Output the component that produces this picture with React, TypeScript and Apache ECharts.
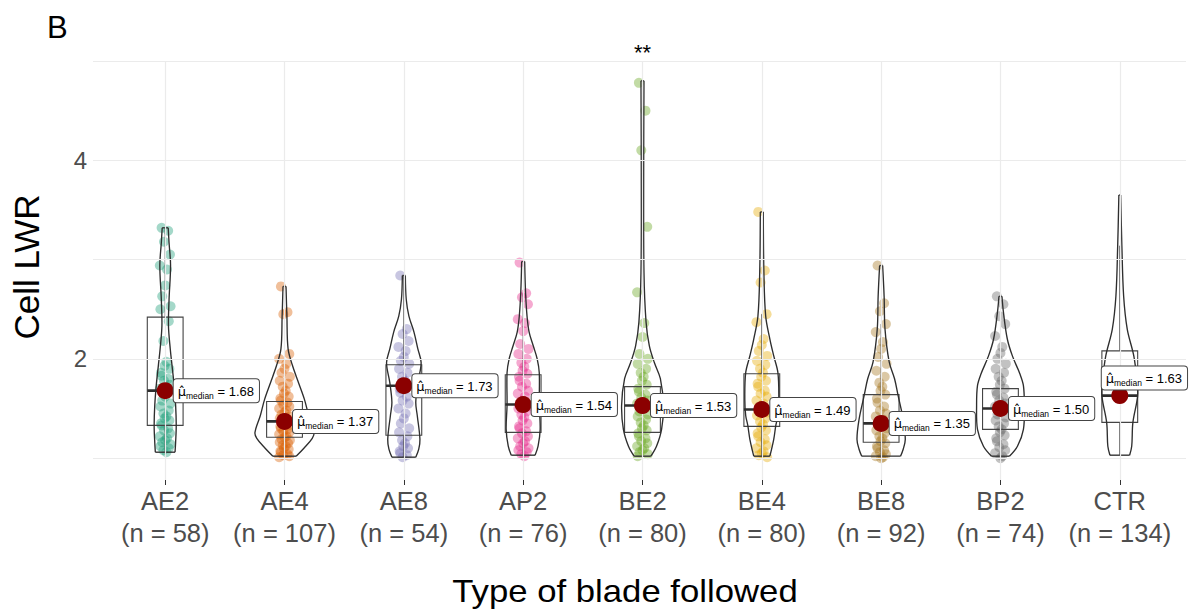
import { useEffect, useRef } from 'react';
import * as echarts from 'echarts';

// ---------- data ----------
const CATEGORIES = ['AE2', 'AE4', 'AE8', 'AP2', 'BE2', 'BE4', 'BE8', 'BP2', 'CTR'];
const N_OBS = [58, 107, 54, 76, 80, 80, 92, 74, 134];
const MEDIANS = [1.68, 1.37, 1.73, 1.54, 1.53, 1.49, 1.35, 1.5, 1.63];
const Q1 = [1.33, 1.21, 1.23, 1.26, 1.26, 1.32, 1.16, 1.29, 1.36];
const Q3 = [2.42, 1.57, 1.94, 1.84, 1.72, 1.85, 1.64, 1.7, 2.08];
const WHISKER_LOW = [1.06, 1.01, 1.01, 1.02, 1.01, 1.01, 1.0, 1.02, 1.03];
const WHISKER_HIGH = [3.32, 2.05, 2.84, 2.66, 2.36, 2.45, 2.35, 2.23, 3.14];
const Y_TICKS = [2, 4];
const Y_GRID = [1, 2, 3, 4, 5];
const SIGNIF_CATEGORY = 'BE2';
const SIGNIF_LABEL = '**';
const X_TITLE = 'Type of blade followed';
const Y_TITLE = 'Cell LWR';
const PANEL_TAG = 'B';

// violin profiles: [value, relative density (1 = widest violin)]
const VIOLIN_AE2 = [[1.06, 0.33], [1.16, 0.35], [1.33, 0.37], [1.53, 0.35], [1.73, 0.3], [1.93, 0.23], [2.1, 0.17], [2.33, 0.11], [2.6, 0.13], [2.94, 0.18], [3.17, 0.13], [3.32, 0.1]];
const VIOLIN_AE4 = [[1.02, 0.39], [1.1, 0.65], [1.2, 0.93], [1.26, 0.99], [1.43, 0.81], [1.59, 0.67], [1.76, 0.47], [1.93, 0.27], [2.1, 0.12], [2.43, 0.08], [2.73, 0.05]];
const VIOLIN_AE8 = [[1.01, 0.4], [1.09, 0.5], [1.19, 0.54], [1.43, 0.45], [1.56, 0.4], [1.76, 0.47], [1.96, 0.58], [2.1, 0.47], [2.27, 0.34], [2.43, 0.17], [2.6, 0.08], [2.84, 0.05]];
const VIOLIN_AP2 = [[1.03, 0.4], [1.12, 0.5], [1.29, 0.57], [1.53, 0.54], [1.86, 0.54], [2.0, 0.47], [2.13, 0.34], [2.27, 0.2], [2.43, 0.13], [2.67, 0.08], [2.98, 0.05]];
const VIOLIN_BE2 = [[1.02, 0.28], [1.12, 0.47], [1.29, 0.64], [1.53, 0.7], [1.8, 0.6], [1.96, 0.4], [2.13, 0.23], [2.37, 0.12], [2.87, 0.05], [3.88, 0.04], [4.8, 0.05]];
const VIOLIN_BE4 = [[1.02, 0.27], [1.19, 0.4], [1.33, 0.47], [1.43, 0.54], [1.59, 0.57], [1.86, 0.54], [2.03, 0.4], [2.2, 0.27], [2.43, 0.13], [2.87, 0.07], [3.48, 0.05]];
const VIOLIN_BE8 = [[1.02, 0.65], [1.09, 0.74], [1.19, 0.81], [1.39, 0.74], [1.63, 0.57], [1.8, 0.45], [1.97, 0.27], [2.3, 0.13], [2.63, 0.1], [2.94, 0.05]];
const VIOLIN_BP2 = [[1.02, 0.3], [1.12, 0.57], [1.29, 0.77], [1.53, 0.8], [1.73, 0.77], [1.85, 0.65], [2.03, 0.4], [2.2, 0.23], [2.47, 0.1], [2.63, 0.05]];
const VIOLIN_CTR = [[1.03, 0.33], [1.12, 0.4], [1.36, 0.44], [1.63, 0.6], [1.8, 0.57], [2.03, 0.47], [2.3, 0.25], [2.63, 0.13], [3.14, 0.07], [3.65, 0.03]];

// observed points (CTR has no colour in the 8-colour palette, so its points are not drawn)
const AE2_VALUES = [3.32, 3.29, 3.18, 3.05, 2.94, 2.9, 2.74, 2.63, 2.53, 2.5, 2.38, 2.18, 1.97, 1.93, 1.9, 1.86, 1.83, 1.8, 1.78, 1.74, 1.7, 1.66, 1.62, 1.58, 1.55, 1.52, 1.48, 1.45, 1.42, 1.4, 1.38, 1.35, 1.33, 1.3, 1.28, 1.25, 1.22, 1.2, 1.18, 1.16, 1.14, 1.12, 1.1, 1.08, 1.06];
const AE4_VALUES = [2.73, 2.47, 2.45, 2.05, 2.0, 1.95, 1.9, 1.86, 1.82, 1.78, 1.75, 1.72, 1.68, 1.65, 1.62, 1.6, 1.58, 1.56, 1.54, 1.52, 1.5, 1.48, 1.46, 1.44, 1.42, 1.4, 1.39, 1.38, 1.36, 1.35, 1.33, 1.32, 1.3, 1.29, 1.27, 1.26, 1.24, 1.22, 1.21, 1.19, 1.18, 1.16, 1.15, 1.13, 1.12, 1.1, 1.09, 1.07, 1.06, 1.04, 1.03, 1.02, 1.01];
const AE8_VALUES = [2.84, 2.3, 2.25, 2.18, 2.12, 2.08, 2.02, 1.98, 1.95, 1.9, 1.86, 1.82, 1.78, 1.75, 1.73, 1.7, 1.66, 1.62, 1.58, 1.55, 1.5, 1.45, 1.4, 1.35, 1.3, 1.26, 1.22, 1.18, 1.15, 1.12, 1.1, 1.07, 1.05, 1.03, 1.01];
const AP2_VALUES = [2.97, 2.66, 2.62, 2.55, 2.4, 2.36, 2.28, 2.15, 2.1, 2.05, 2.0, 1.96, 1.92, 1.88, 1.85, 1.82, 1.78, 1.75, 1.72, 1.68, 1.65, 1.62, 1.58, 1.55, 1.52, 1.5, 1.47, 1.44, 1.41, 1.38, 1.35, 1.32, 1.3, 1.27, 1.25, 1.22, 1.2, 1.17, 1.15, 1.12, 1.1, 1.08, 1.06, 1.04, 1.02];
const BE2_VALUES = [4.78, 4.5, 4.1, 3.33, 2.67, 2.36, 2.22, 2.05, 2.0, 1.95, 1.9, 1.86, 1.82, 1.78, 1.74, 1.7, 1.67, 1.64, 1.61, 1.58, 1.55, 1.52, 1.5, 1.47, 1.44, 1.42, 1.39, 1.36, 1.33, 1.3, 1.28, 1.25, 1.22, 1.2, 1.17, 1.15, 1.12, 1.1, 1.08, 1.06, 1.04, 1.02];
const BE4_VALUES = [3.48, 2.89, 2.77, 2.45, 2.37, 2.2, 2.14, 2.08, 2.03, 1.98, 1.94, 1.9, 1.86, 1.82, 1.78, 1.75, 1.72, 1.68, 1.65, 1.62, 1.58, 1.55, 1.52, 1.49, 1.46, 1.43, 1.4, 1.37, 1.34, 1.31, 1.28, 1.25, 1.22, 1.19, 1.16, 1.13, 1.1, 1.07, 1.05, 1.03, 1.01];
const BE8_VALUES = [2.94, 2.56, 2.48, 2.35, 2.27, 2.17, 2.1, 2.02, 1.95, 1.88, 1.82, 1.76, 1.72, 1.68, 1.64, 1.6, 1.56, 1.52, 1.48, 1.45, 1.42, 1.39, 1.36, 1.33, 1.3, 1.28, 1.25, 1.22, 1.2, 1.17, 1.15, 1.12, 1.1, 1.08, 1.06, 1.04, 1.02, 1.01, 1.0];
const BP2_VALUES = [2.63, 2.55, 2.43, 2.35, 2.23, 2.12, 2.06, 2.0, 1.95, 1.9, 1.86, 1.82, 1.78, 1.74, 1.7, 1.67, 1.64, 1.61, 1.58, 1.55, 1.52, 1.5, 1.47, 1.44, 1.41, 1.38, 1.35, 1.32, 1.29, 1.26, 1.23, 1.2, 1.17, 1.14, 1.11, 1.08, 1.05, 1.02, 1.0];

// fixed jitter pattern (category units)
const JITTER = [-0.03, 0.025, -0.01, 0.04, -0.045, 0.015, 0.0, -0.025, 0.045, -0.04, 0.03, -0.015, 0.01, -0.005, 0.035, -0.035];

// ---------- style ----------
const PALETTE = ['#1B9E77', '#D95F02', '#7570B3', '#E7298A', '#66A61E', '#E6AB02', '#A6761D', '#666666'];
const FONT = '"Liberation Sans", Arial, Helvetica, sans-serif';
const VIOLIN_HALF = 0.25;
const BOX_HALF = 0.15;
const LINE = '#2e2e2e';

const VIOLINS = [VIOLIN_AE2, VIOLIN_AE4, VIOLIN_AE8, VIOLIN_AP2, VIOLIN_BE2, VIOLIN_BE4, VIOLIN_BE8, VIOLIN_BP2, VIOLIN_CTR];
const POINTS = [AE2_VALUES, AE4_VALUES, AE8_VALUES, AP2_VALUES, BE2_VALUES, BE4_VALUES, BE8_VALUES, BP2_VALUES];
const X_IDX = CATEGORIES.map((_, i) => i);

function buildOption(): any {
  const gridSeries = {
    type: 'scatter',
    data: [],
    silent: true,
    z: 0,
    markLine: {
      silent: true,
      symbol: ['none', 'none'],
      label: { show: false },
      lineStyle: { color: '#ebebeb', width: 1.2, type: 'solid' },
      data: [...Y_GRID.map((v) => ({ yAxis: v })), ...X_IDX.map((v) => ({ xAxis: v }))],
    },
  };

  const pointSeries = POINTS.map((vals, g) => ({
    type: 'scatter',
    name: CATEGORIES[g],
    z: 1,
    silent: true,
    symbolSize: 10,
    itemStyle: { color: PALETTE[g], opacity: 0.4 },
    data: vals.map((v, j) => [g + JITTER[j % JITTER.length], v]),
  }));

  const shapeSeries = {
    type: 'custom',
    z: 3,
    silent: true,
    data: X_IDX.map((i) => [i, MEDIANS[i]]),
    encode: { x: 0, y: 1 },
    renderItem: (params: any, api: any) => {
      const i = params.dataIndex;
      const prof = VIOLINS[i];
      const left = prof.map(([y, d]) => api.coord([i - d * VIOLIN_HALF, y]));
      const right = prof.map(([y, d]) => api.coord([i + d * VIOLIN_HALF, y]));
      const last = prof.length - 1;
      const ls = { stroke: LINE, fill: 'none', lineWidth: 1.35 };
      const tl = api.coord([i - BOX_HALF, Q3[i]]);
      const br = api.coord([i + BOX_HALF, Q1[i]]);
      const c = api.coord([i, Q3[i]]);
      const wHi = api.coord([i, WHISKER_HIGH[i]]);
      const wLo = api.coord([i, WHISKER_LOW[i]]);
      const q1 = api.coord([i, Q1[i]]);
      const mL = api.coord([i - BOX_HALF, MEDIANS[i]]);
      const mR = api.coord([i + BOX_HALF, MEDIANS[i]]);
      return {
        type: 'group',
        children: [
          { type: 'line', shape: { x1: c[0], y1: c[1], x2: wHi[0], y2: wHi[1] }, style: { stroke: '#444', lineWidth: 1 } },
          { type: 'line', shape: { x1: q1[0], y1: q1[1], x2: wLo[0], y2: wLo[1] }, style: { stroke: '#444', lineWidth: 1 } },
          { type: 'rect', shape: { x: tl[0], y: tl[1], width: br[0] - tl[0], height: br[1] - tl[1] }, style: { stroke: '#444', fill: 'none', lineWidth: 1.1 } },
          { type: 'line', shape: { x1: mL[0], y1: mL[1], x2: mR[0], y2: mR[1] }, style: { stroke: LINE, lineWidth: 2.6 } },
          { type: 'polyline', shape: { points: left, smooth: 0.35 }, style: ls },
          { type: 'polyline', shape: { points: right, smooth: 0.35 }, style: ls },
          { type: 'line', shape: { x1: left[0][0], y1: left[0][1], x2: right[0][0], y2: right[0][1] }, style: ls },
          { type: 'line', shape: { x1: left[last][0], y1: left[last][1], x2: right[last][0], y2: right[last][1] }, style: ls },
        ],
      };
    },
  };

  const medianSeries = {
    type: 'scatter',
    z: 5,
    silent: true,
    symbolSize: 17,
    itemStyle: { color: '#8B0000', opacity: 1 },
    data: X_IDX.map((i) => (CATEGORIES[i] === 'CTR'
      ? { value: [i, MEDIANS[i]], label: { position: [-9.5, -20.5] } }
      : { value: [i, MEDIANS[i]] })),
    label: {
      show: true,
      position: 'right',
      distance: 0,
      formatter: (p: any) => `{mu|μ̂}{sub|median}{eq| = ${MEDIANS[p.dataIndex].toFixed(2)}}`,
      backgroundColor: '#ffffff',
      borderColor: '#444',
      borderWidth: 1,
      borderRadius: 3,
      padding: [3, 5, 2, 4],
      rich: {
        mu: { fontFamily: '"DejaVu Sans", sans-serif', fontSize: 13, color: '#000', lineHeight: 18, verticalAlign: 'middle' },
        sub: { fontFamily: FONT, fontSize: 8.5, color: '#000', lineHeight: 11, verticalAlign: 'bottom' },
        eq: { fontFamily: FONT, fontSize: 13, color: '#000', lineHeight: 18, verticalAlign: 'middle' },
      },
    },
  };

  return {
    animation: false,
    backgroundColor: '#ffffff',
    grid: { left: 93, right: 7, top: 61, bottom: 133, containLabel: false },
    xAxis: {
      type: 'value',
      min: -0.605,
      max: 8.555,
      axisLine: { show: false },
      splitLine: { show: false },
      axisTick: { show: true, customValues: X_IDX, length: 5, lineStyle: { color: '#333' } },
      axisLabel: {
        customValues: X_IDX,
        formatter: (v: number) => `${CATEGORIES[Math.round(v)]}\n(n = ${N_OBS[Math.round(v)]})`,
        fontSize: 25.5,
        lineHeight: 32,
        color: '#4d4d4d',
        fontFamily: FONT,
        margin: 5,
      },
    },
    yAxis: {
      type: 'value',
      min: 0.78,
      max: 5.0,
      axisLine: { show: false },
      splitLine: { show: false },
      axisTick: { show: true, customValues: Y_TICKS, length: 4, lineStyle: { color: '#333' } },
      axisLabel: { customValues: Y_TICKS, fontSize: 24, color: '#4d4d4d', fontFamily: FONT, margin: 6 },
    },
    series: [gridSeries, ...pointSeries, shapeSeries, medianSeries],
  };
}

export default function App() {
  const ref = useRef<HTMLDivElement>(null);
  useEffect(() => {
    if (!ref.current) return;
    const chart = echarts.init(ref.current, null, { renderer: 'svg' });
    chart.setOption(buildOption());
    const sx = chart.convertToPixel({ gridIndex: 0 }, [CATEGORIES.indexOf(SIGNIF_CATEGORY), 5]) as number[];
    chart.setOption({
      graphic: [
        { type: 'text', x: 47, y: 27, style: { text: PANEL_TAG, fontSize: 31, fill: '#000', fontFamily: FONT, align: 'left', verticalAlign: 'middle' } },
        { type: 'text', x: sx[0], y: sx[1] - 9, style: { text: SIGNIF_LABEL, fontSize: 22, fill: '#000', fontFamily: FONT, align: 'center', verticalAlign: 'middle' } },
        { type: 'text', x: 625, y: 591, scaleX: 1.12, style: { text: X_TITLE, fontSize: 31, fill: '#000', fontFamily: FONT, align: 'center', verticalAlign: 'middle' } },
        { type: 'text', x: 26, y: 267, rotation: Math.PI / 2, style: { text: Y_TITLE, fontSize: 35, fill: '#000', fontFamily: FONT, align: 'center', verticalAlign: 'middle' } },
      ],
    });
    return () => chart.dispose();
  }, []);
  return <div ref={ref} style={{ position: 'fixed', left: 0, top: 0, width: 1193, height: 613, background: '#fff' }} />;
}
